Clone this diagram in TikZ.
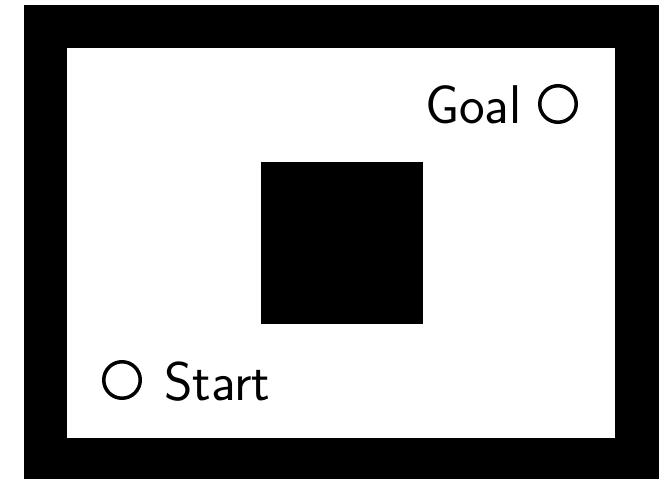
\documentclass[tikz,border=0pt]{standalone}
\usetikzlibrary{positioning}
\tikzset{
  wall/.style={fill=black, draw=none},
  free/.style={fill=white, draw=none},
  marker/.style={circle, draw=black, line width=3.5pt, minimum size=36.5pt, inner sep=0pt},
  tag/.style={font=\sffamily\fontsize{54.5}{60}\selectfont, inner sep=0pt}
}
\begin{document}
\begin{tikzpicture}[x=1pt, y=-1pt]
  \useasboundingbox (0,0) rectangle (669,479);
  % walls and free space
  \fill[wall] (24,5) rectangle (659,490);
  \fill[free] (67,48) rectangle (615,438);
  % obstacle
  \fill[wall] (261,162) rectangle (423,324);
  % start and goal
  \node[marker] (start) at (122,380) {};
  \node[tag, anchor=base west] (startlabel) at (164,400) {Start};
  \node[tag, anchor=base west] (goallabel) at (425,123) {Goal};
  \node[marker] (goal) at (558,104) {};
\end{tikzpicture}
\end{document}
